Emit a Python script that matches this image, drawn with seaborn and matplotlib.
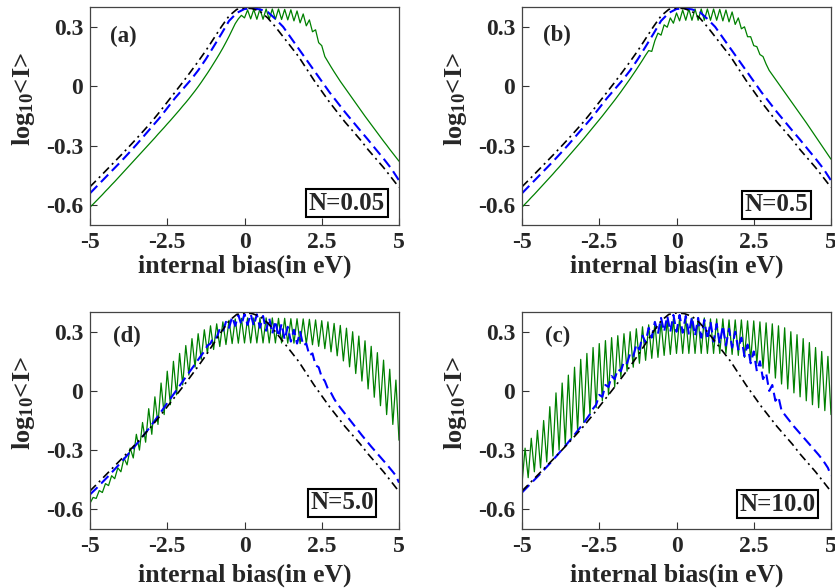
import numpy as np
import pandas as pd
import matplotlib
matplotlib.use("Agg")
import matplotlib.pyplot as plt
import seaborn as sns
from matplotlib.ticker import FixedLocator, FixedFormatter

# ---------------- data ----------------
x_ticks = [-5, -2.5, 0, 2.5, 5]
x_tick_labels = ["-5", "-2.5", "0", "2.5", "5"]
y_ticks = [0.3, 0, -0.3, -0.6]
y_tick_labels = ["0.3", "0", "-0.3", "-0.6"]
panel_tags = ["(a)", "(b)", "(d)", "(c)"]
panel_N = ["N=0.05", "N=0.5", "N=5.0", "N=10.0"]

x_coarse = [-5.0, -4.75, -4.5, -4.25, -4.0, -3.75, -3.5, -3.25, -3.0, -2.75,
            -2.5, -2.25, -2.0, -1.75, -1.5, -1.25, -1.0, -0.75, -0.5, -0.25,
            0.0, 0.25, 0.5, 0.75, 1.0, 1.25, 1.5, 1.75, 2.0, 2.25,
            2.5, 2.75, 3.0, 3.25, 3.5, 3.75, 4.0, 4.25, 4.5, 4.75, 5.0]

x_fine = [-5.0, -4.9, -4.8, -4.7, -4.6, -4.5, -4.4, -4.3, -4.2, -4.1,
          -4.0, -3.9, -3.8, -3.7, -3.6, -3.5, -3.4, -3.3, -3.2, -3.1,
          -3.0, -2.9, -2.8, -2.7, -2.6, -2.5, -2.4, -2.3, -2.2, -2.1,
          -2.0, -1.9, -1.8, -1.7, -1.6, -1.5, -1.4, -1.3, -1.2, -1.1,
          -1.0, -0.9, -0.8, -0.7, -0.6, -0.5, -0.4, -0.3, -0.2, -0.1,
          0.0, 0.1, 0.2, 0.3, 0.4, 0.5, 0.6, 0.7, 0.8, 0.9,
          1.0, 1.1, 1.2, 1.3, 1.4, 1.5, 1.6, 1.7, 1.8, 1.9,
          2.0, 2.1, 2.2, 2.3, 2.4, 2.5, 2.6, 2.7, 2.8, 2.9,
          3.0, 3.1, 3.2, 3.3, 3.4, 3.5, 3.6, 3.7, 3.8, 3.9,
          4.0, 4.1, 4.2, 4.3, 4.4, 4.5, 4.6, 4.7, 4.8, 4.9, 5.0]

# black dash-dot curve (same in every panel)
black_y = [-0.507, -0.468, -0.428, -0.388, -0.348, -0.307, -0.265, -0.222, -0.178, -0.130,
           -0.080, -0.030, 0.020, 0.072, 0.125, 0.180, 0.240, 0.300, 0.355, 0.388,
           0.395, 0.392, 0.378, 0.345, 0.300, 0.250, 0.200, 0.150, 0.090, 0.030,
           -0.025, -0.080, -0.130, -0.180, -0.225, -0.270, -0.320, -0.365, -0.410, -0.460, -0.510]

# blue dashed curve, panels (a) and (b)
blue_ab_y = [-0.540, -0.500, -0.460, -0.420, -0.380, -0.338, -0.295, -0.250, -0.205, -0.160,
             -0.110, -0.060, -0.015, 0.030, 0.080, 0.137, 0.200, 0.264, 0.330, 0.370,
             0.390, 0.393, 0.388, 0.375, 0.340, 0.300, 0.245, 0.190, 0.135, 0.080,
             0.025, -0.030, -0.080, -0.130, -0.177, -0.224, -0.270, -0.318, -0.365, -0.415, -0.475]

green_a = [-0.610, -0.595, -0.579, -0.563, -0.547, -0.530, -0.514, -0.497, -0.481, -0.464,
           -0.447, -0.430, -0.413, -0.396, -0.379, -0.362, -0.345, -0.328, -0.311, -0.294,
           -0.277, -0.260, -0.242, -0.225, -0.208, -0.190, -0.173, -0.155, -0.137, -0.119,
           -0.100, -0.082, -0.063, -0.043, -0.023, -0.002, 0.020, 0.043, 0.066, 0.090,
           0.115, 0.140, 0.166, 0.193, 0.222, 0.252, 0.284, 0.316, 0.340, 0.358,
           0.345, 0.385, 0.340, 0.388, 0.338, 0.390, 0.338, 0.390, 0.338, 0.390,
           0.338, 0.390, 0.337, 0.388, 0.335, 0.386, 0.330, 0.380, 0.320, 0.365,
           0.305, 0.335, 0.275, 0.285, 0.220, 0.205, 0.150, 0.124, 0.098, 0.073,
           0.049, 0.025, 0.003, -0.019, -0.041, -0.063, -0.085, -0.107, -0.129, -0.151,
           -0.172, -0.193, -0.214, -0.235, -0.256, -0.277, -0.297, -0.318, -0.338, -0.358, -0.378]

green_b = [-0.610, -0.594, -0.578, -0.561, -0.545, -0.528, -0.511, -0.494, -0.477, -0.460,
           -0.443, -0.425, -0.408, -0.390, -0.372, -0.354, -0.336, -0.318, -0.300, -0.282,
           -0.264, -0.245, -0.226, -0.207, -0.188, -0.169, -0.150, -0.130, -0.110, -0.090,
           -0.070, -0.049, -0.028, -0.006, 0.016, 0.038, 0.061, 0.084, 0.108, 0.132,
           0.157, 0.180, 0.176, 0.230, 0.268, 0.258, 0.310, 0.298, 0.345, 0.318,
           0.370, 0.330, 0.385, 0.333, 0.390, 0.333, 0.390, 0.333, 0.390, 0.333,
           0.390, 0.333, 0.390, 0.333, 0.388, 0.330, 0.385, 0.325, 0.375, 0.312,
           0.345, 0.290, 0.300, 0.250, 0.250, 0.205, 0.200, 0.160, 0.150, 0.112,
           0.080, 0.058, 0.036, 0.014, -0.008, -0.030, -0.052, -0.074, -0.096, -0.118,
           -0.140, -0.162, -0.184, -0.207, -0.230, -0.253, -0.276, -0.299, -0.322, -0.345, -0.368]

green_d = [-0.570, -0.540, -0.545, -0.505, -0.515, -0.470, -0.480, -0.430, -0.445, -0.390,
           -0.410, -0.340, -0.375, -0.290, -0.340, -0.220, -0.300, -0.160, -0.260, -0.090,
           -0.220, -0.030, -0.170, 0.040, -0.120, 0.100, -0.070, 0.150, -0.020, 0.190,
           0.030, 0.230, 0.080, 0.265, 0.120, 0.290, 0.160, 0.310, 0.190, 0.330,
           0.210, 0.340, 0.225, 0.350, 0.235, 0.358, 0.240, 0.365, 0.242, 0.368,
           0.243, 0.370, 0.243, 0.370, 0.243, 0.370, 0.243, 0.370, 0.243, 0.370,
           0.243, 0.368, 0.243, 0.368, 0.242, 0.366, 0.242, 0.366, 0.240, 0.365,
           0.238, 0.363, 0.234, 0.360, 0.226, 0.356, 0.214, 0.350, 0.198, 0.342,
           0.178, 0.332, 0.152, 0.318, 0.122, 0.300, 0.088, 0.278, 0.050, 0.254,
           0.010, 0.226, -0.032, 0.194, -0.075, 0.156, -0.120, 0.110, -0.170, 0.055, -0.250]

blue_d = [-0.525, -0.510, -0.495, -0.479, -0.463, -0.447, -0.431, -0.414, -0.397, -0.380,
          -0.363, -0.345, -0.327, -0.309, -0.290, -0.271, -0.252, -0.232, -0.212, -0.192,
          -0.171, -0.150, -0.128, -0.106, -0.084, -0.062, -0.040, -0.018, 0.004, 0.026,
          0.048, 0.070, 0.092, 0.114, 0.136, 0.158, 0.180, 0.200, 0.230, 0.240,
          0.275, 0.270, 0.315, 0.300, 0.350, 0.320, 0.375, 0.330, 0.385, 0.335,
          0.390, 0.335, 0.390, 0.330, 0.388, 0.320, 0.380, 0.305, 0.370, 0.290,
          0.355, 0.275, 0.340, 0.260, 0.325, 0.250, 0.310, 0.240, 0.300, 0.230,
          0.240, 0.180, 0.190, 0.130, 0.120, 0.070, 0.050, 0.010, -0.010, -0.040,
          -0.065, -0.085, -0.105, -0.125, -0.145, -0.165, -0.185, -0.205, -0.225, -0.244,
          -0.263, -0.282, -0.300, -0.318, -0.336, -0.354, -0.372, -0.391, -0.410, -0.430, -0.465]

green_c = [-0.470, -0.290, -0.440, -0.240, -0.410, -0.200, -0.390, -0.150, -0.360, -0.080,
           -0.330, -0.010, -0.300, 0.040, -0.270, 0.080, -0.240, 0.120, -0.200, 0.160,
           -0.160, 0.190, -0.120, 0.220, -0.085, 0.240, -0.050, 0.255, -0.020, 0.270,
           0.020, 0.280, 0.070, 0.290, 0.100, 0.300, 0.120, 0.315, 0.140, 0.325,
           0.155, 0.335, 0.165, 0.345, 0.170, 0.350, 0.180, 0.360, 0.185, 0.365,
           0.190, 0.370, 0.190, 0.370, 0.190, 0.370, 0.190, 0.370, 0.190, 0.370,
           0.190, 0.365, 0.190, 0.365, 0.190, 0.365, 0.190, 0.360, 0.185, 0.360,
           0.180, 0.360, 0.170, 0.355, 0.155, 0.355, 0.140, 0.350, 0.115, 0.345,
           0.090, 0.340, 0.065, 0.330, 0.035, 0.320, 0.010, 0.300, -0.010, 0.285,
           -0.030, 0.265, -0.050, 0.245, -0.070, 0.220, -0.085, 0.200, -0.100, 0.175, -0.120]

blue_c = [-0.515, -0.499, -0.483, -0.467, -0.451, -0.435, -0.419, -0.402, -0.385, -0.368,
          -0.351, -0.333, -0.315, -0.297, -0.279, -0.260, -0.241, -0.222, -0.202, -0.182,
          -0.162, -0.140, -0.118, -0.090, -0.070, -0.020, -0.030, 0.030, 0.020, 0.075,
          0.060, 0.110, 0.100, 0.150, 0.140, 0.190, 0.175, 0.235, 0.210, 0.280,
          0.245, 0.320, 0.270, 0.350, 0.290, 0.370, 0.300, 0.380, 0.300, 0.385,
          0.300, 0.385, 0.295, 0.380, 0.290, 0.375, 0.280, 0.370, 0.270, 0.360,
          0.260, 0.350, 0.250, 0.340, 0.240, 0.330, 0.230, 0.315, 0.220, 0.300,
          0.210, 0.270, 0.175, 0.235, 0.140, 0.200, 0.100, 0.150, 0.060, 0.090,
          0.000, 0.030, -0.050, -0.030, -0.100, -0.120, -0.140, -0.160, -0.180, -0.198,
          -0.216, -0.234, -0.252, -0.270, -0.288, -0.306, -0.324, -0.344, -0.366, -0.390, -0.430]

# ---------------- style ----------------
sns.set_theme(style="white")
plt.rcParams["font.family"] = ["Liberation Serif", "DejaVu Serif"]
plt.rcParams["font.weight"] = "bold"
plt.rcParams["axes.unicode_minus"] = False
plt.rcParams["mathtext.fontset"] = "custom"
plt.rcParams["mathtext.rm"] = "Liberation Serif:bold"
plt.rcParams["mathtext.bf"] = "Liberation Serif:bold"
plt.rcParams["mathtext.it"] = "Liberation Serif:bold"

GREEN = "#008000"
BLUE = "#0000ff"
BLACK = "#000000"

fig = plt.figure(figsize=(8.35, 5.88), dpi=100)
W, H = 835.0, 588.0
boxes = [(90, 7, 399, 225), (522, 7, 831, 225), (90, 312, 399, 529), (522, 312, 831, 529)]

panels = [
    (green_a, blue_ab_y, x_coarse),
    (green_b, blue_ab_y, x_coarse),
    (green_d, blue_d, x_fine),
    (green_c, blue_c, x_fine),
]
n_pos = [(0.955, 0.046), (0.926, 0.041), (0.919, 0.069), (0.951, 0.060)]
tag_pos = [(0.065, 0.865), (0.068, 0.870), (0.074, 0.889), (0.074, 0.889)]
xlab_y = [-0.135, -0.135, -0.16, -0.16]

for i, ((gy, by, bx), (l, t, r, b)) in enumerate(zip(panels, boxes)):
    ax = fig.add_axes([l / W, 1 - b / H, (r - l) / W, (b - t) / H])
    dg = pd.DataFrame({"x": x_fine, "y": gy})
    db = pd.DataFrame({"x": bx, "y": by})
    dk = pd.DataFrame({"x": x_coarse, "y": black_y})
    sns.lineplot(data=dg, x="x", y="y", ax=ax, color=GREEN, lw=0.9, sort=False)
    sns.lineplot(data=db, x="x", y="y", ax=ax, color=BLUE, lw=1.5, sort=False,
                 linestyle=(0, (5, 2.5)))
    sns.lineplot(data=dk, x="x", y="y", ax=ax, color=BLACK, lw=1.2, sort=False,
                 linestyle=(0, (5, 2.5, 1.2, 2.5)))
    ax.set_xlim(-5, 5)
    ax.set_ylim(-0.7, 0.4)
    ax.xaxis.set_major_locator(FixedLocator(x_ticks))
    ax.xaxis.set_major_formatter(FixedFormatter(x_tick_labels))
    ax.yaxis.set_major_locator(FixedLocator(y_ticks))
    ax.yaxis.set_major_formatter(FixedFormatter(y_tick_labels))
    ax.tick_params(axis="both", direction="in", length=5, width=0.8, color="#333333",
                   labelsize=17, bottom=True, left=True, top=False, right=False)
    ax.tick_params(axis="y", pad=5)
    ax.tick_params(axis="x", pad=5)
    for lab in ax.get_xticklabels() + ax.get_yticklabels():
        lab.set_fontweight("bold")
    for sp in ax.spines.values():
        sp.set_color("#444444")
        sp.set_linewidth(0.9)
    ax.set_xlabel("internal bias(in eV)", fontsize=18.5, fontweight="bold")
    ax.set_ylabel(r"log$_{10}$<I>", fontsize=19, fontweight="bold")
    ax.xaxis.set_label_coords(0.5, xlab_y[i])
    ax.yaxis.set_label_coords(-0.172, 0.58)
    tx, ty = tag_pos[i]
    ax.text(tx, ty, panel_tags[i], transform=ax.transAxes, ha="left", va="center",
            fontsize=16.5, fontweight="bold")
    nx, ny = n_pos[i]
    ax.text(nx, ny, panel_N[i], transform=ax.transAxes, ha="right", va="bottom",
            fontsize=18, fontweight="bold",
            bbox=dict(boxstyle="square,pad=0.1", fc="white", ec="black", lw=1.5))

fig.savefig("out.png", dpi=100)
